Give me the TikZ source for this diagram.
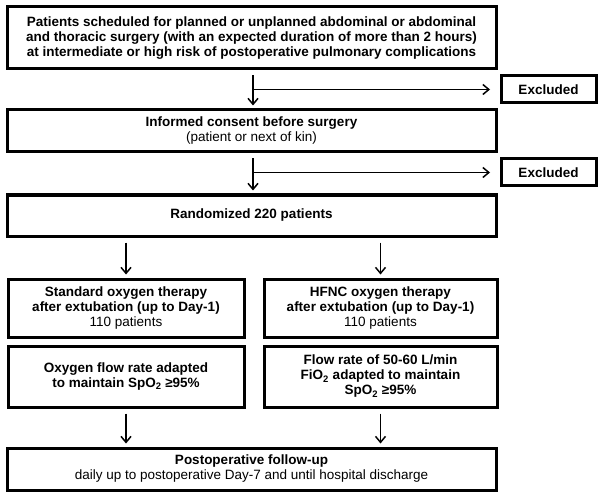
\documentclass[tikz,border=0pt]{standalone}
\usepackage{fontspec}
\setmainfont{Liberation Sans}
\usetikzlibrary{arrows.meta}
\begin{document}
\begin{tikzpicture}[x=1pt,y=-1pt,
  box/.style={draw, line width=3pt, inner sep=0pt, align=center, font=\fontsize{13.5}{15}\selectfont},
  arr/.style={line width=1.5pt, shorten <=5pt, shorten >=3pt, -{Straight Barb[length=6pt,width=10pt,line width=1.5pt]}}]
\useasboundingbox (0,0) rectangle (600,500);
\node[box, minimum width=489pt, minimum height=62pt] (b1) at (251.5,38) {\textbf{Patients scheduled for planned or unplanned abdominal or abdominal}\\\textbf{and thoracic surgery (with an expected duration of more than 2 hours)}\\\textbf{at intermediate or high risk of postoperative pulmonary complications}};
\node[box, minimum width=95pt, minimum height=27pt] (e1) at (548.5,89.5) {\textbf{Excluded}};
\node[box, minimum width=489pt, minimum height=42pt] (b2) at (251.5,131) {\textbf{Informed consent before surgery}\\(patient or next of kin)};
\node[box, minimum width=95pt, minimum height=27pt] (e2) at (548.5,172.5) {\textbf{Excluded}};
\node[box, minimum width=489pt, minimum height=41pt] (b3) at (251.5,215.5) {\textbf{Randomized 220 patients}};
\node[box, minimum width=236pt, minimum height=58pt] (b4l) at (126,308) {\textbf{Standard oxygen therapy}\\\textbf{after extubation (up to Day-1)}\\110 patients};
\node[box, minimum width=233pt, minimum height=58pt] (b4r) at (380.5,308) {\textbf{HFNC oxygen therapy}\\\textbf{after extubation (up to Day-1)}\\110 patients};
\node[box, minimum width=236pt, minimum height=61pt] (b5l) at (126,376.5) {\textbf{Oxygen flow rate adapted}\\\textbf{to maintain SpO\textsubscript{2} ≥95\%}};
\node[box, minimum width=233pt, minimum height=61pt] (b5r) at (380.5,376.5) {\textbf{Flow rate of 50-60 L/min}\\\textbf{FiO\textsubscript{2} adapted to maintain}\\\textbf{SpO\textsubscript{2} ≥95\%}};
\node[box, minimum width=489pt, minimum height=42pt] (b6) at (251.5,469) {\textbf{Postoperative follow-up}\\daily up to postoperative Day-7 and until hospital discharge};
\coordinate (j1) at (253,89.5);
\coordinate (j2) at (253,172.5);
\draw[arr] (b1.south -| j1) -- (b2.north -| j1);
\draw[arr, shorten <=0pt, shorten >=9.5pt] (j1) -- (e1.west);
\draw[arr] (b2.south -| j2) -- (b3.north -| j2);
\draw[arr, shorten <=0pt, shorten >=9.5pt] (j2) -- (e2.west);
\draw[arr] (b3.south -| b4l) -- (b4l.north);
\draw[arr] (b3.south -| b4r) -- (b4r.north);
\draw[arr] (b5l.south) -- (b6.north -| b5l);
\draw[arr] (b5r.south) -- (b6.north -| b5r);
\end{tikzpicture}
\end{document}
